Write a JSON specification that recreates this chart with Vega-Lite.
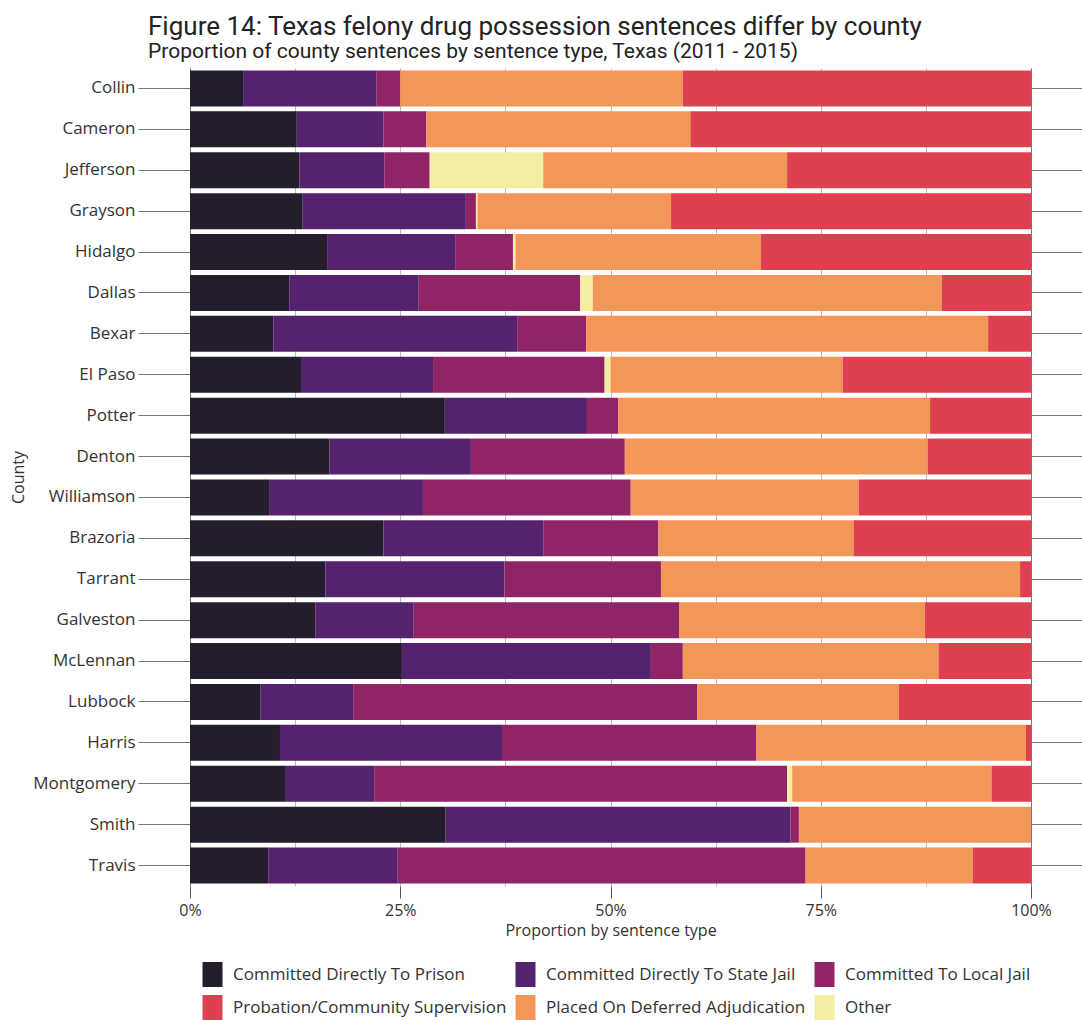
{
  "$schema": "https://vega.github.io/schema/vega-lite/v6.json",
  "autosize": {"type": "none"},
  "width": 841,
  "height": 818,
  "padding": {"left": 190, "top": 68, "right": 51, "bottom": 134},
  "background": "white",
  "title": {
    "text": "Figure 14: Texas felony drug possession sentences differ by county",
    "subtitle": "Proportion of county sentences by sentence type, Texas (2011 - 2015)",
    "anchor": "start",
    "frame": "group",
    "dx": -42,
    "offset": 6,
    "font": "Roboto",
    "fontSize": 26,
    "fontWeight": "normal",
    "color": "#222",
    "subtitleFont": "Roboto",
    "subtitleFontSize": 21,
    "subtitleColor": "#222",
    "subtitlePadding": 1
  },
  "data": {
    "values": [
      {"county": "Collin", "type": "Committed Directly To Prison", "pct": 6.4},
      {"county": "Collin", "type": "Committed Directly To State Jail", "pct": 15.8},
      {"county": "Collin", "type": "Committed To Local Jail", "pct": 2.8},
      {"county": "Collin", "type": "Placed On Deferred Adjudication", "pct": 33.6},
      {"county": "Collin", "type": "Probation/Community Supervision", "pct": 41.4},
      {"county": "Cameron", "type": "Committed Directly To Prison", "pct": 12.7},
      {"county": "Cameron", "type": "Committed Directly To State Jail", "pct": 10.3},
      {"county": "Cameron", "type": "Committed To Local Jail", "pct": 5.1},
      {"county": "Cameron", "type": "Placed On Deferred Adjudication", "pct": 31.4},
      {"county": "Cameron", "type": "Probation/Community Supervision", "pct": 40.5},
      {"county": "Jefferson", "type": "Committed Directly To Prison", "pct": 13.0},
      {"county": "Jefferson", "type": "Committed Directly To State Jail", "pct": 10.1},
      {"county": "Jefferson", "type": "Committed To Local Jail", "pct": 5.4},
      {"county": "Jefferson", "type": "Other", "pct": 13.5},
      {"county": "Jefferson", "type": "Placed On Deferred Adjudication", "pct": 29.0},
      {"county": "Jefferson", "type": "Probation/Community Supervision", "pct": 29.0},
      {"county": "Grayson", "type": "Committed Directly To Prison", "pct": 13.4},
      {"county": "Grayson", "type": "Committed Directly To State Jail", "pct": 19.4},
      {"county": "Grayson", "type": "Committed To Local Jail", "pct": 1.2},
      {"county": "Grayson", "type": "Other", "pct": 0.2},
      {"county": "Grayson", "type": "Placed On Deferred Adjudication", "pct": 23.0},
      {"county": "Grayson", "type": "Probation/Community Supervision", "pct": 42.8},
      {"county": "Hidalgo", "type": "Committed Directly To Prison", "pct": 16.3},
      {"county": "Hidalgo", "type": "Committed Directly To State Jail", "pct": 15.3},
      {"county": "Hidalgo", "type": "Committed To Local Jail", "pct": 6.8},
      {"county": "Hidalgo", "type": "Other", "pct": 0.3},
      {"county": "Hidalgo", "type": "Placed On Deferred Adjudication", "pct": 29.2},
      {"county": "Hidalgo", "type": "Probation/Community Supervision", "pct": 32.1},
      {"county": "Dallas", "type": "Committed Directly To Prison", "pct": 11.8},
      {"county": "Dallas", "type": "Committed Directly To State Jail", "pct": 15.4},
      {"county": "Dallas", "type": "Committed To Local Jail", "pct": 19.2},
      {"county": "Dallas", "type": "Other", "pct": 1.5},
      {"county": "Dallas", "type": "Placed On Deferred Adjudication", "pct": 41.5},
      {"county": "Dallas", "type": "Probation/Community Supervision", "pct": 10.6},
      {"county": "Bexar", "type": "Committed Directly To Prison", "pct": 9.9},
      {"county": "Bexar", "type": "Committed Directly To State Jail", "pct": 29.0},
      {"county": "Bexar", "type": "Committed To Local Jail", "pct": 8.2},
      {"county": "Bexar", "type": "Placed On Deferred Adjudication", "pct": 47.8},
      {"county": "Bexar", "type": "Probation/Community Supervision", "pct": 5.1},
      {"county": "El Paso", "type": "Committed Directly To Prison", "pct": 13.2},
      {"county": "El Paso", "type": "Committed Directly To State Jail", "pct": 15.7},
      {"county": "El Paso", "type": "Committed To Local Jail", "pct": 20.4},
      {"county": "El Paso", "type": "Other", "pct": 0.7},
      {"county": "El Paso", "type": "Placed On Deferred Adjudication", "pct": 27.6},
      {"county": "El Paso", "type": "Probation/Community Supervision", "pct": 22.4},
      {"county": "Potter", "type": "Committed Directly To Prison", "pct": 30.3},
      {"county": "Potter", "type": "Committed Directly To State Jail", "pct": 16.9},
      {"county": "Potter", "type": "Committed To Local Jail", "pct": 3.7},
      {"county": "Potter", "type": "Placed On Deferred Adjudication", "pct": 37.1},
      {"county": "Potter", "type": "Probation/Community Supervision", "pct": 12.0},
      {"county": "Denton", "type": "Committed Directly To Prison", "pct": 16.6},
      {"county": "Denton", "type": "Committed Directly To State Jail", "pct": 16.8},
      {"county": "Denton", "type": "Committed To Local Jail", "pct": 18.3},
      {"county": "Denton", "type": "Placed On Deferred Adjudication", "pct": 36.0},
      {"county": "Denton", "type": "Probation/Community Supervision", "pct": 12.3},
      {"county": "Williamson", "type": "Committed Directly To Prison", "pct": 9.4},
      {"county": "Williamson", "type": "Committed Directly To State Jail", "pct": 18.3},
      {"county": "Williamson", "type": "Committed To Local Jail", "pct": 24.7},
      {"county": "Williamson", "type": "Placed On Deferred Adjudication", "pct": 27.1},
      {"county": "Williamson", "type": "Probation/Community Supervision", "pct": 20.5},
      {"county": "Brazoria", "type": "Committed Directly To Prison", "pct": 23.0},
      {"county": "Brazoria", "type": "Committed Directly To State Jail", "pct": 19.0},
      {"county": "Brazoria", "type": "Committed To Local Jail", "pct": 13.7},
      {"county": "Brazoria", "type": "Placed On Deferred Adjudication", "pct": 23.2},
      {"county": "Brazoria", "type": "Probation/Community Supervision", "pct": 21.1},
      {"county": "Tarrant", "type": "Committed Directly To Prison", "pct": 16.1},
      {"county": "Tarrant", "type": "Committed Directly To State Jail", "pct": 21.3},
      {"county": "Tarrant", "type": "Committed To Local Jail", "pct": 18.6},
      {"county": "Tarrant", "type": "Placed On Deferred Adjudication", "pct": 42.7},
      {"county": "Tarrant", "type": "Probation/Community Supervision", "pct": 1.3},
      {"county": "Galveston", "type": "Committed Directly To Prison", "pct": 14.9},
      {"county": "Galveston", "type": "Committed Directly To State Jail", "pct": 11.7},
      {"county": "Galveston", "type": "Committed To Local Jail", "pct": 31.6},
      {"county": "Galveston", "type": "Placed On Deferred Adjudication", "pct": 29.2},
      {"county": "Galveston", "type": "Probation/Community Supervision", "pct": 12.6},
      {"county": "McLennan", "type": "Committed Directly To Prison", "pct": 25.2},
      {"county": "McLennan", "type": "Committed Directly To State Jail", "pct": 29.6},
      {"county": "McLennan", "type": "Committed To Local Jail", "pct": 3.8},
      {"county": "McLennan", "type": "Placed On Deferred Adjudication", "pct": 30.4},
      {"county": "McLennan", "type": "Probation/Community Supervision", "pct": 11.0},
      {"county": "Lubbock", "type": "Committed Directly To Prison", "pct": 8.4},
      {"county": "Lubbock", "type": "Committed Directly To State Jail", "pct": 11.0},
      {"county": "Lubbock", "type": "Committed To Local Jail", "pct": 40.9},
      {"county": "Lubbock", "type": "Placed On Deferred Adjudication", "pct": 24.0},
      {"county": "Lubbock", "type": "Probation/Community Supervision", "pct": 15.7},
      {"county": "Harris", "type": "Committed Directly To Prison", "pct": 10.7},
      {"county": "Harris", "type": "Committed Directly To State Jail", "pct": 26.4},
      {"county": "Harris", "type": "Committed To Local Jail", "pct": 30.2},
      {"county": "Harris", "type": "Placed On Deferred Adjudication", "pct": 32.1},
      {"county": "Harris", "type": "Probation/Community Supervision", "pct": 0.6},
      {"county": "Montgomery", "type": "Committed Directly To Prison", "pct": 11.3},
      {"county": "Montgomery", "type": "Committed Directly To State Jail", "pct": 10.6},
      {"county": "Montgomery", "type": "Committed To Local Jail", "pct": 49.1},
      {"county": "Montgomery", "type": "Other", "pct": 0.6},
      {"county": "Montgomery", "type": "Placed On Deferred Adjudication", "pct": 23.7},
      {"county": "Montgomery", "type": "Probation/Community Supervision", "pct": 4.7},
      {"county": "Smith", "type": "Committed Directly To Prison", "pct": 30.4},
      {"county": "Smith", "type": "Committed Directly To State Jail", "pct": 41.0},
      {"county": "Smith", "type": "Committed To Local Jail", "pct": 1.0},
      {"county": "Smith", "type": "Placed On Deferred Adjudication", "pct": 27.6},
      {"county": "Travis", "type": "Committed Directly To Prison", "pct": 9.3},
      {"county": "Travis", "type": "Committed Directly To State Jail", "pct": 15.4},
      {"county": "Travis", "type": "Committed To Local Jail", "pct": 48.5},
      {"county": "Travis", "type": "Placed On Deferred Adjudication", "pct": 19.9},
      {"county": "Travis", "type": "Probation/Community Supervision", "pct": 6.9}
    ]
  },
  "encoding": {
    "y": {
      "field": "county",
      "type": "nominal",
      "sort": ["Collin", "Cameron", "Jefferson", "Grayson", "Hidalgo", "Dallas", "Bexar", "El Paso", "Potter", "Denton", "Williamson", "Brazoria", "Tarrant", "Galveston", "McLennan", "Lubbock", "Harris", "Montgomery", "Smith", "Travis"],
      "scale": {"paddingInner": 0.12, "paddingOuter": 0.06}
    },
    "x": {
      "field": "pct",
      "type": "quantitative",
      "stack": "zero",
      "scale": {"domain": [0, 100], "nice": false},
      "title": "Proportion by sentence type",
      "axis": {
        "values": [0, 12.5, 25, 37.5, 50, 62.5, 75, 87.5, 100],
        "labelExpr": "datum.value % 25 === 0 ? datum.value + '%' : ''",
        "tickOpacity": {"condition": {"test": "datum.value % 25 !== 0", "value": 0}, "value": 1},
        "tickSize": 12,
        "tickColor": "#555",
        "domain": false,
        "grid": true,
        "gridColor": "#bbbbbb",
        "gridWidth": 1,
        "labelFlush": false,
        "labelOverlap": false,
        "labelPadding": 4,
        "labelFont": "Open Sans",
        "labelFontSize": 16,
        "labelColor": "#333",
        "titleFont": "Open Sans",
        "titleFontSize": 16,
        "titleFontWeight": "normal",
        "titleColor": "#333",
        "titlePadding": 4
      }
    }
  },
  "layer": [
    {
      "mark": {"type": "bar", "opacity": 0},
      "encoding": {
        "y": {
          "field": "county",
          "type": "nominal",
          "sort": ["Collin", "Cameron", "Jefferson", "Grayson", "Hidalgo", "Dallas", "Bexar", "El Paso", "Potter", "Denton", "Williamson", "Brazoria", "Tarrant", "Galveston", "McLennan", "Lubbock", "Harris", "Montgomery", "Smith", "Travis"],
          "axis": {
            "orient": "right",
            "labels": false,
            "title": null,
            "tickSize": 51,
            "tickColor": "#777",
            "domain": true,
            "domainColor": "#777",
            "grid": false
          }
        }
      }
    },
    {
      "mark": {"type": "bar"},
      "encoding": {
        "y": {
          "field": "county",
          "type": "nominal",
          "sort": ["Collin", "Cameron", "Jefferson", "Grayson", "Hidalgo", "Dallas", "Bexar", "El Paso", "Potter", "Denton", "Williamson", "Brazoria", "Tarrant", "Galveston", "McLennan", "Lubbock", "Harris", "Montgomery", "Smith", "Travis"],
          "title": "County",
          "axis": {
            "orient": "left",
            "tickSize": 52,
            "tickColor": "#777",
            "domain": true,
            "domainColor": "#777",
            "labelPadding": 3,
            "labelFont": "Open Sans",
            "labelFontSize": 17,
            "labelColor": "#333",
            "titleFont": "Open Sans",
            "titleFontSize": 16,
            "titleFontWeight": "normal",
            "titleColor": "#333",
            "titlePadding": 6,
            "grid": false
          }
        },
        "order": {"field": "type", "sort": "ascending"},
        "color": {
          "field": "type",
          "type": "nominal",
          "scale": {
            "domain": ["Committed Directly To Prison", "Committed Directly To State Jail", "Committed To Local Jail", "Probation/Community Supervision", "Placed On Deferred Adjudication", "Other"],
            "range": ["#231d2e", "#55226e", "#8f2467", "#dd4150", "#f4955a", "#f3eea3"]
          },
          "legend": {
            "orient": "none",
            "legendX": 10,
            "legendY": 894,
            "direction": "horizontal",
            "columns": 3,
            "title": null,
            "symbolType": "M-0.8,-1H0.8V1H-0.8Z",
            "symbolSize": 625,
            "symbolStrokeWidth": 0,
            "symbolOpacity": 1,
            "labelFont": "Open Sans",
            "labelFontSize": 17,
            "labelColor": "#333",
            "labelLimit": 400,
            "labelOffset": 8,
            "columnPadding": 6,
            "rowPadding": 8
          }
        }
      }
    }
  ],
  "resolve": {"axis": {"y": "independent"}},
  "config": {
    "view": {"stroke": null}
  }
}
